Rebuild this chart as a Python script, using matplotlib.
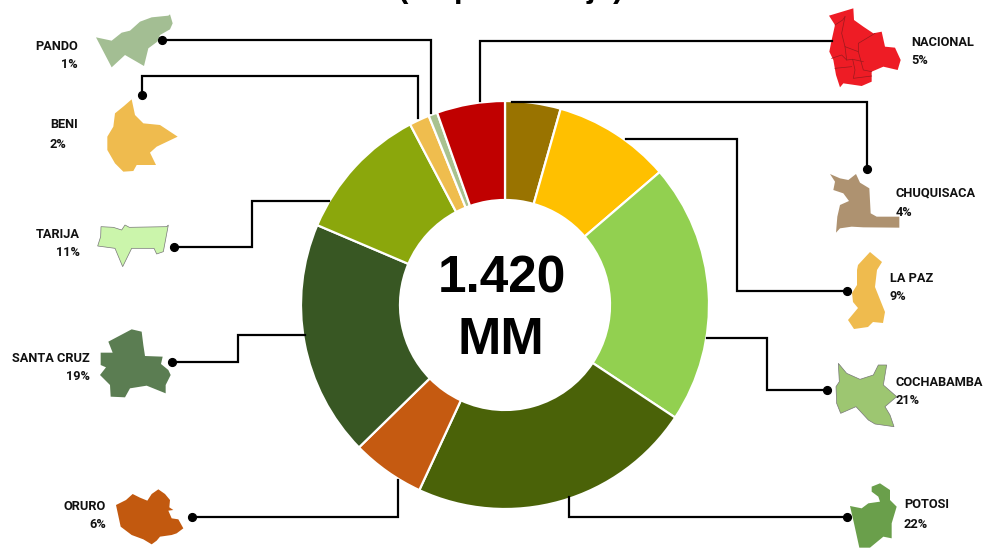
import matplotlib

matplotlib.use("Agg")
import matplotlib.pyplot as plt
from matplotlib.patches import Polygon

W, H = 987, 548

# Data
departments = ["CHUQUISACA", "LA PAZ", "COCHABAMBA", "POTOSI", "ORURO",
               "SANTA CRUZ", "TARIJA", "BENI", "PANDO", "NACIONAL"]
shares = [4.4, 9.3, 20.6, 22.6, 5.8, 18.7, 10.9, 1.6, 0.7, 5.4]
pct_labels = ["4%", "9%", "21%", "22%", "6%", "19%", "11%", "2%", "1%", "5%"]
wedge_colors = ["#997300", "#FFC000", "#92D050", "#4A6208", "#C55A11",
                "#385723", "#8BA70C", "#EFBD4E", "#A9C28F", "#C00000"]
total_text = ["1.420", "MM"]
title_text = "(en porcentaje)"

# Label anchors in pixels: x, y of name, y of percent, alignment of name, of percent
label_pos = {
    "PANDO": (78, 46, 65, "right", "right"),
    "BENI": (50, 125, 144, "left", "left"),
    "TARIJA": (80, 235, 253, "right", "right"),
    "SANTA CRUZ": (90, 359, 377, "right", "right"),
    "ORURO": (106, 507, 525, "right", "right"),
    "NACIONAL": (911, 43, 61, "left", "left"),
    "CHUQUISACA": (896, 193, 212, "left", "left"),
    "LA PAZ": (890, 278, 297, "left", "left"),
    "COCHABAMBA": (896, 382, 401, "left", "left"),
    "POTOSI": (904, 505, 524, "left", "left"),
}

# Leader lines in pixels, first point gets the dot
leaders = [
    ((161.5, 39.5), (431, 39.5), (431, 113)),
    ((141.5, 95), (141.5, 75.5), (418, 75.5), (418, 118)),
    ((174, 246.5), (251.5, 246.5), (251.5, 200.5), (329, 200.5)),
    ((172, 362), (238, 362), (238, 335), (305, 335)),
    ((192, 516.5), (398, 516.5), (398, 480)),
    ((847, 516.5), (569, 516.5), (569, 497)),
    ((827, 390), (767, 390), (767, 338), (707, 338)),
    ((847, 291), (737, 291), (737, 139), (626, 139)),
    ((867, 168.5), (867, 102), (512, 102)),
]
nacional_leader = ((480, 101), (480, 41), (832, 41))

# Map outlines (colour, edge, x offset, y offset, scale, points)
shapes = [
    ("#A3BE93", "none", 0, 0, 3, [(288, 112), (335, 122), (365, 98), (390, 92), (420, 65), (455, 52),
                                  (505, 47), (510, 43), (518, 70), (510, 88), (480, 105), (472, 125),
                                  (445, 145), (432, 198), (375, 165), (335, 202)]),
    ("#EFBB4E", "none", 0, 0, 3, [(395, 298), (405, 345), (430, 370), (480, 375), (533, 410), (470, 440),
                                  (450, 458), (468, 495), (410, 495), (400, 513), (370, 515), (345, 490),
                                  (322, 450), (322, 410), (340, 380), (345, 340), (372, 318)]),
    ("#CBF5AB", "#777777", 0, 0, 3, [(303, 680), (340, 682), (365, 690), (375, 675), (388, 682), (500, 680),
                                     (505, 675), (490, 755), (470, 762), (462, 745), (395, 745), (368, 800),
                                     (345, 745), (293, 738), (302, 710)]),
    ("#5B7D52", "none", 0, 270, 3, [(325, 215), (395, 178), (425, 185), (430, 225), (435, 258), (488, 260),
                                    (483, 282), (505, 300), (512, 315), (497, 345), (497, 370), (440, 347),
                                    (390, 355), (375, 382), (332, 380), (330, 345), (300, 315), (318, 292),
                                    (302, 285), (302, 248), (338, 248)]),
    ("#C2590F", "none", 0, 270, 3, [(348, 705), (378, 690), (398, 672), (420, 683), (442, 692), (455, 672),
                                    (475, 658), (495, 672), (510, 690), (508, 712), (520, 720), (505, 722),
                                    (515, 745), (535, 748), (550, 775), (530, 790), (515, 795), (480, 800),
                                    (470, 812), (455, 823), (430, 808), (395, 795), (362, 770)]),
    ("#EE1C25", "none", 780, 0, 3, [(147, 47), (220, 25), (222, 60), (250, 80), (280, 100), (305, 95),
                                    (315, 140), (345, 143), (362, 180), (353, 210), (310, 200), (275, 215),
                                    (275, 245), (245, 258), (190, 250), (180, 262), (168, 225), (160, 180),
                                    (148, 155), (155, 120), (165, 75)]),
    ("#AE9270", "none", 780, 0, 3, [(150, 522), (180, 535), (205, 540), (228, 522), (240, 548), (268, 565),
                                    (272, 640), (290, 650), (358, 650), (358, 683), (250, 682), (215, 680),
                                    (180, 685), (168, 698), (172, 650), (180, 615), (207, 603), (190, 580),
                                    (160, 570), (165, 545)]),
    ("#EFBB4E", "none", 0, 0, 1, [(858, 265), (870, 252), (882, 262), (877, 270), (875, 287), (885, 312),
                                  (883, 323), (873, 322), (868, 327), (854, 329), (848, 320), (858, 308),
                                  (853, 302), (852, 293), (857, 285), (857, 270)]),
    ("#9DC671", "#777777", 780, 270, 3, [(175, 280), (200, 310), (240, 328), (280, 315), (295, 285), (320, 285),
                                         (310, 345), (350, 380), (315, 410), (330, 435), (342, 470), (285, 462),
                                         (265, 450), (228, 410), (182, 430), (170, 400), (168, 350), (178, 335)]),
    ("#6A9F4B", "none", 780, 270, 3, [(275, 650), (300, 640), (330, 660), (330, 690), (350, 710), (335, 760),
                                      (335, 805), (310, 800), (270, 833), (238, 833), (222, 760), (210, 708),
                                      (245, 715), (265, 700), (300, 695), (295, 680), (275, 665)]),
]

# Department borders inside the national map
nacional_borders = [
    [(195, 50), (185, 100), (195, 140), (235, 155), (235, 130), (285, 100)],
    [(235, 155), (250, 210), (275, 215)],
    [(165, 75), (188, 60), (195, 50)],
    [(155, 175), (185, 165), (200, 180), (218, 178), (225, 210), (220, 235), (275, 228)],
    [(165, 205), (215, 200)],
    [(195, 140), (200, 180)],
    [(218, 178), (250, 185)],
]


def px(x, y):
    return x, H - y


fig = plt.figure(figsize=(W / 100, H / 100), dpi=100)
ax = fig.add_axes([0, 0, 1, 1])

# Donut
ax.pie(
    shares,
    colors=wedge_colors,
    center=px(505, 305),
    radius=204,
    startangle=90,
    counterclock=False,
    wedgeprops={"width": 99, "edgecolor": "white", "linewidth": 1.6},
)
ax.set_xlim(0, W)
ax.set_ylim(0, H)
ax.set_aspect("equal")
ax.axis("off")

# Map silhouettes
for color, edge, ox, oy, scale, pts in shapes:
    outline = [px(ox + a / scale, oy + b / scale) for a, b in pts]
    ax.add_patch(Polygon(outline, closed=True, facecolor=color, edgecolor=edge, lw=0.5, zorder=3))

for border in nacional_borders:
    xs, ys = zip(*[px(780 + a / 3, b / 3) for a, b in border])
    ax.plot(xs, ys, color="#9A1A1E", lw=0.5, zorder=4)

# Leader lines
for line in leaders:
    xs, ys = zip(*[px(a, b) for a, b in line])
    ax.plot(xs, ys, color="black", lw=1.6, zorder=5, solid_joinstyle="miter")
    ax.plot(xs[0], ys[0], "o", color="black", ms=5.6, zorder=5)

xs, ys = zip(*[px(a, b) for a, b in nacional_leader])
ax.plot(xs, ys, color="black", lw=1.6, zorder=5, solid_joinstyle="miter")

# Labels
for name, pct in zip(departments, pct_labels):
    x, y1, y2, ha1, ha2 = label_pos[name]
    ax.text(*px(x, y1), name, ha=ha1, va="center", fontsize=9.2, fontweight="bold",
            family="Roboto", color="#111111", zorder=6)
    ax.text(*px(x, y2), pct, ha=ha2, va="center", fontsize=9.2, fontweight="bold",
            family="Roboto", color="#111111", zorder=6)

# Center total
ax.text(*px(502, 279), total_text[0], ha="center", va="center", fontsize=37,
        fontweight="bold", family="Liberation Sans", color="black")
ax.text(*px(501, 340), total_text[1], ha="center", va="center", fontsize=37.5,
        fontweight="bold", family="Liberation Sans", color="black")

# Title sits almost entirely above the top edge, only the descenders show
ax.text(*px(511, -3), title_text, ha="center", va="baseline", fontsize=22.6,
        fontweight="bold", family="Liberation Sans", color="black")

fig.savefig("out.png", dpi=100)
